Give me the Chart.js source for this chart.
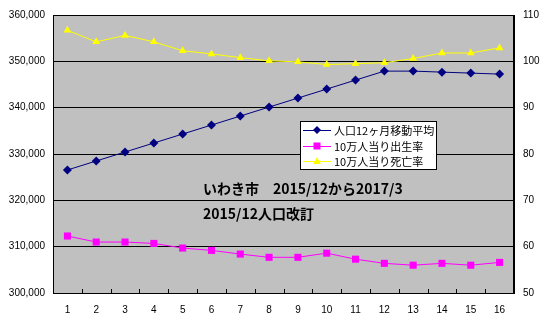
<!DOCTYPE html>
<html>
<head>
<meta charset="utf-8">
<script src="https://cdn.jsdelivr.net/npm/chart.js@4.4.1/dist/chart.umd.min.js"></script>
<style>
  html, body { margin: 0; padding: 0; background: #fff; }
  canvas { display: block; }
</style>
</head>
<body>
<canvas id="iwakiChart" width="544" height="326"></canvas>
<script>
// 月の通し番号 (2015/12 = 1 ... 2017/3 = 16)
const categories = ['1', '2', '3', '4', '5', '6', '7', '8', '9', '10', '11', '12', '13', '14', '15', '16'];

// 人口12ヶ月移動平均 (左軸)
const population = [326550, 328490, 330430, 332370, 334310, 336250, 338190, 340130,
                    342070, 344010, 345950, 347890, 347890, 347670, 347460, 347240];

// 10万人当り出生率 (右軸)
const birthRate = [62.3, 61.0, 61.0, 60.7, 59.7, 59.2, 58.4, 57.7,
                   57.7, 58.6, 57.3, 56.4, 56.0, 56.4, 56.0, 56.6];

// 10万人当り死亡率 (右軸)
const deathRate = [106.7, 104.2, 105.6, 104.2, 102.3, 101.6, 100.8, 100.1,
                   99.9, 99.3, 99.5, 99.7, 100.6, 101.8, 101.8, 102.9];

const leftRange = { min: 300000, max: 360000, step: 10000 };
const rightRange = { min: 50, max: 110, step: 10 };

const titleLines = ['いわき市　2015/12から2017/3', '2015/12人口改訂'];

const NAVY = '#000080';
const MAGENTA = '#FF00FF';
const YELLOW = '#FFFF00';

// 灰色の背景と外枠
const plotFrame = {
    id: 'plotFrame',
    beforeDraw(chart) {
        const { ctx, chartArea: a } = chart;
        ctx.save();
        ctx.fillStyle = '#C0C0C0';
        ctx.fillRect(a.left, a.top, a.right - a.left, a.bottom - a.top);
        ctx.restore();
    },
    afterDatasetsDraw(chart) {
        const { ctx, chartArea: a } = chart;
        const x = chart.scales.x;
        ctx.save();
        ctx.strokeStyle = '#000';
        ctx.lineWidth = 1;
        ctx.strokeRect(Math.round(a.left) + 0.5, Math.round(a.top) + 0.5,
                       Math.round(a.right - a.left) - 1, Math.round(a.bottom - a.top));
        // 内向きの目盛り
        ctx.beginPath();
        for (let i = 0; i < categories.length - 1; i++) {
            const px = Math.round((x.getPixelForValue(i) + x.getPixelForValue(i + 1)) / 2) + 0.5;
            ctx.moveTo(px, a.bottom);
            ctx.lineTo(px, a.bottom - 4);
        }
        ctx.stroke();
        ctx.restore();
    }
};

function drawMarker(ctx, style, x, y, color) {
    ctx.fillStyle = color;
    ctx.beginPath();
    if (style === 'rectRot') {
        ctx.moveTo(x, y - 4); ctx.lineTo(x + 4, y); ctx.lineTo(x, y + 4); ctx.lineTo(x - 4, y);
    } else if (style === 'rect') {
        ctx.rect(x - 3.5, y - 3.5, 7, 7);
    } else {
        ctx.moveTo(x, y - 4); ctx.lineTo(x + 3.8, y + 3); ctx.lineTo(x - 3.8, y + 3);
    }
    ctx.closePath();
    ctx.fill();
}

// 凡例と注記
const annotations = {
    id: 'annotations',
    afterDraw(chart) {
        const { ctx } = chart;
        ctx.save();
        // 凡例の枠
        ctx.fillStyle = '#fff';
        ctx.fillRect(300, 121, 136, 48);
        ctx.strokeStyle = '#000';
        ctx.lineWidth = 1;
        ctx.strokeRect(300.5, 121.5, 136, 48);
        const rowsY = [130, 146, 161];
        chart.data.datasets.forEach((ds, i) => {
            const y = rowsY[i];
            ctx.strokeStyle = ds.borderColor;
            ctx.beginPath();
            ctx.moveTo(303, y + 0.5);
            ctx.lineTo(331, y + 0.5);
            ctx.stroke();
            drawMarker(ctx, ds.pointStyle, 317, y, ds.pointBackgroundColor);
            ctx.fillStyle = '#000';
            ctx.font = '11px "Noto Sans CJK JP"';
            ctx.textBaseline = 'middle';
            ctx.fillText(ds.label, 334, y + 1);
        });
        // タイトル
        ctx.fillStyle = '#000';
        ctx.font = 'bold 14px "Noto Sans CJK JP"';
        ctx.textBaseline = 'middle';
        ctx.fillText(titleLines[0], 203, 189);
        ctx.fillText(titleLines[1], 203, 214);
        ctx.restore();
    }
};

const ctx = document.getElementById('iwakiChart').getContext('2d');
new Chart(ctx, {
    type: 'line',
    data: {
        labels: categories,
        datasets: [
            {
                label: '人口12ヶ月移動平均',
                data: population,
                yAxisID: 'y',
                borderColor: NAVY,
                borderWidth: 1,
                pointStyle: 'rectRot',
                pointRadius: 4.5,
                pointBackgroundColor: NAVY,
                pointBorderColor: NAVY,
                pointBorderWidth: 0,
                tension: 0
            },
            {
                label: '10万人当り出生率',
                data: birthRate,
                yAxisID: 'y2',
                borderColor: MAGENTA,
                borderWidth: 1,
                pointStyle: 'rect',
                pointRadius: 5,
                pointBackgroundColor: MAGENTA,
                pointBorderColor: MAGENTA,
                pointBorderWidth: 0,
                tension: 0
            },
            {
                label: '10万人当り死亡率',
                data: deathRate,
                yAxisID: 'y2',
                borderColor: YELLOW,
                borderWidth: 1,
                pointStyle: 'triangle',
                pointRadius: 4.5,
                pointBackgroundColor: YELLOW,
                pointBorderColor: YELLOW,
                pointBorderWidth: 0,
                tension: 0
            }
        ]
    },
    options: {
        responsive: false,
        animation: false,
        layout: { padding: { top: 15, left: 0, right: 0, bottom: 0 } },
        plugins: { legend: { display: false }, tooltip: { enabled: false } },
        scales: {
            x: {
                offset: true,
                grid: { display: false },
                border: { display: false },
                ticks: { color: '#000', padding: 3, font: { family: 'Liberation Sans', size: 10 } },
                afterFit(scale) { scale.height = 33; }
            },
            y: {
                position: 'left',
                min: leftRange.min,
                max: leftRange.max,
                grid: { color: '#000', lineWidth: 1, drawTicks: false },
                border: { display: true, color: '#000' },
                ticks: {
                    stepSize: leftRange.step,
                    color: '#000',
                    padding: 8,
                    font: { family: 'Liberation Sans', size: 10 },
                    callback: v => v.toLocaleString('en-US')
                },
                afterFit(scale) { scale.width = 53; }
            },
            y2: {
                position: 'right',
                min: rightRange.min,
                max: rightRange.max,
                grid: { drawOnChartArea: false, drawTicks: false },
                border: { display: true, color: '#000' },
                ticks: {
                    stepSize: rightRange.step,
                    color: '#000',
                    padding: 9,
                    font: { family: 'Liberation Sans', size: 10 }
                },
                afterFit(scale) { scale.width = 30; }
            }
        }
    },
    plugins: [plotFrame, annotations]
});
</script>
</body>
</html>
